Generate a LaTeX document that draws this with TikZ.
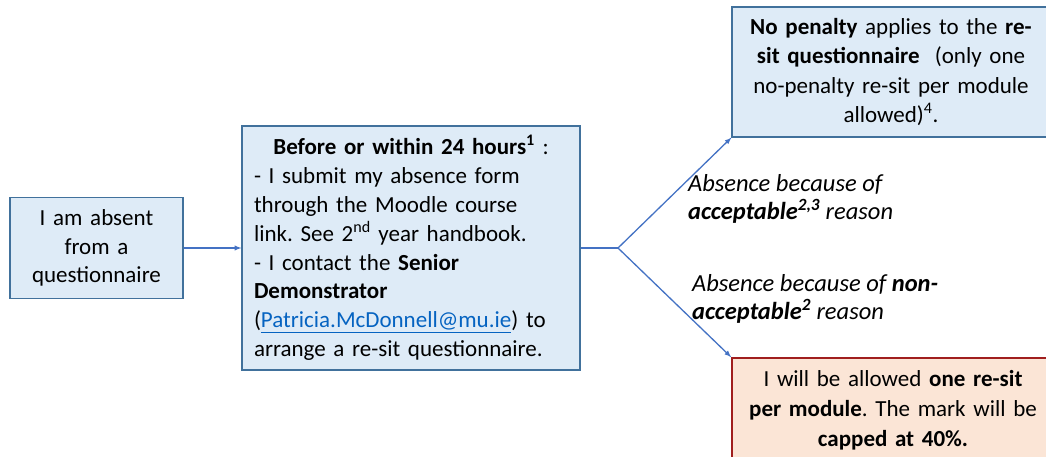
\documentclass[tikz,border=0pt]{standalone}
\usepackage{fontspec}
\setmainfont{Carlito}
\usepackage{tikz}
\usetikzlibrary{arrows}
\definecolor{boxblue}{RGB}{222,235,247}
\definecolor{edgeblue}{RGB}{65,113,156}
\definecolor{arrowblue}{RGB}{68,114,196}
\definecolor{boxpeach}{RGB}{251,229,214}
\definecolor{edgered}{RGB}{160,30,30}
\definecolor{linkblue}{RGB}{5,99,193}

\tikzset{
	stepbox/.style={draw=edgeblue, fill=boxblue, line width=1.2pt, inner sep=8pt,
		font=\fontsize{23}{28.8}\selectfont\frenchspacing},
	capbox/.style={stepbox, draw=edgered, fill=boxpeach, line width=1.8pt},
	reason/.style={align=left, inner sep=0pt, font=\fontsize{24.5}{28.5}\selectfont\itshape},
}

\begin{document}
\begin{tikzpicture}[x=1pt,y=-1pt]
	\clip (0,0) rectangle (1046,457);
	\fill[white] (0,0) rectangle (1046,457);
	
	\node[stepbox, minimum width=173pt, minimum height=101pt, text width=157pt, align=center] (absent) at (96.5,248)
	{I am absent\\ from a\\ questionnaire};
	
	\node[stepbox, inner xsep=12pt, minimum height=244pt, text width=314pt, align=left] (within) at (411,248)
	{\makebox[314pt][c]{\textbf{Before or within 24 hours\textsuperscript{1}} :}\\
		- I submit my absence form\\
		through the Moodle course\\
		link. See 2\textsuperscript{nd} year handbook.\\
		- I contact the \textbf{Senior}\\
		\textbf{Demonstrator}\\
		({\color{linkblue}\underline{Patricia.McDonnell@mu.ie}}) to\\
		arrange a re-sit questionnaire.};
	
	\node[stepbox, minimum height=130pt, text width=302pt, align=center, font=\fontsize{23}{29.5}\selectfont\frenchspacing] (nopen) at (891,72)
	{\textbf{No penalty} applies to the \textbf{re-}\\
		\textbf{sit questionnaire}~~(only one\\
		no-penalty re-sit per module\\
		allowed)\textsuperscript{4}.};
	
	\node[capbox, minimum height=104pt, text width=306pt, align=center, font=\fontsize{23}{30}\selectfont\frenchspacing] (capped) at (893,410)
	{I will be allowed \textbf{one re-sit}\\
		\textbf{per module}. The mark will be\\
		\textbf{capped at 40\%.}};
	
	\coordinate (split) at (618,248);
	
	\draw[->,>=latex, arrowblue, line width=1.3pt] (absent.east) -- (within.west);
	\draw[arrowblue, line width=1.3pt] (within.east) -- (split);
	\draw[->,>=latex, arrowblue, line width=1.3pt] (split) -- (nopen.south west);
	\draw[->,>=latex, arrowblue, line width=1.3pt] (split) -- (capped.north west);
	
	\node[reason, anchor=west] (good) at (688,199)
	{Absence because of\\ \textbf{acceptable\textsuperscript{2,3}} reason};
	\node[reason, anchor=west] (bad) at (692,299)
	{Absence because of \textbf{non-}\\ \textbf{acceptable\textsuperscript{2}} reason};
\end{tikzpicture}
\end{document}
